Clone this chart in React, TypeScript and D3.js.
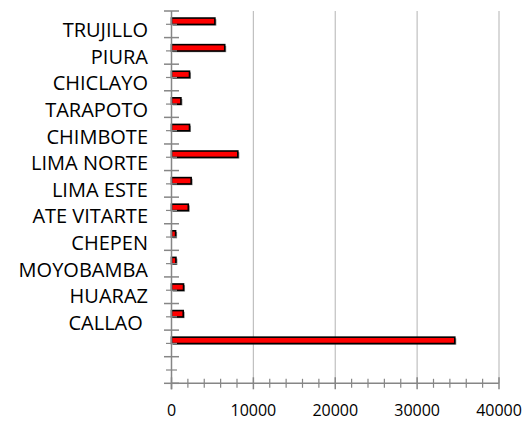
import React from 'react';
import * as d3 from 'd3';

// categories top to bottom (the 13th bar has no label in the source, last band is empty)
const categories = ['TRUJILLO', 'PIURA', 'CHICLAYO', 'TARAPOTO', 'CHIMBOTE', 'LIMA NORTE', 'LIMA ESTE', 'ATE VITARTE', 'CHEPEN', 'MOYOBAMBA', 'HUARAZ', 'CALLAO ', '', ' '];
const values: (number | null)[] = [5300, 6500, 2200, 1150, 2200, 8100, 2400, 2050, 500, 540, 1470, 1430, 34600, null];
const xTicks = [0, 10000, 20000, 30000, 40000];

const W = 526;
const H = 421;
const plot = { left: 171.5, right: 499, top: 11, bottom: 383.3 };

const App: React.FC = () => {
  const x = d3.scaleLinear().domain([0, 40000]).range([plot.left, plot.right]);
  const y = d3.scaleBand<string>().domain(categories).range([plot.top, plot.bottom]).paddingInner(0).paddingOuter(0);
  const bw = y.bandwidth();

  const minorX = d3.range(0, 40001, 2000).filter((v) => v % 10000 !== 0);
  const axisColor = '#868686';

  return (
    <div style={{ position: 'fixed', left: 0, top: 0, width: W, height: H, background: '#fff' }}>
      <svg width={W} height={H} style={{ display: 'block' }}>
        {/* vertical gridlines */}
        {xTicks.filter((t) => t > 0).map((t) => (
          <line key={'g' + t} x1={x(t)} x2={x(t)} y1={plot.top} y2={plot.bottom} stroke="#c0c0c0" strokeWidth={1.2} />
        ))}

        {/* bars */}
        {categories.map((c, i) => {
          const v = values[i];
          if (v == null) return null;
          const y0 = (y(c) as number) + bw * 0.265;
          return (
            <g key={'b' + i}>
              <rect x={x(0) + 1.5} y={y0 + 1.2} width={x(v) - x(0)} height={bw * 0.24} fill="#404040" opacity={0.6} />
              <rect x={x(0)} y={y0} width={x(v) - x(0)} height={bw * 0.24} fill="#ff0000" stroke="#000" strokeWidth={1.6} />
            </g>
          );
        })}

        {/* y axis */}
        <line x1={x(0)} x2={x(0)} y1={plot.top} y2={plot.bottom + 6} stroke={axisColor} strokeWidth={1.5} />
        {d3.range(categories.length + 1).map((i) => {
          const yy = plot.top + i * bw;
          return <line key={'ym' + i} x1={x(0) - 7.5} x2={x(0) + 7.5} y1={yy} y2={yy} stroke={axisColor} strokeWidth={1.5} />;
        })}
        {categories.map((c, i) => {
          const yy = (y(c) as number) + bw / 2;
          return <line key={'yn' + i} x1={x(0) - 5.5} x2={x(0) + 5.5} y1={yy} y2={yy} stroke={axisColor} strokeWidth={1.2} />;
        })}

        {/* x axis */}
        <line x1={x(0)} x2={x(40000)} y1={plot.bottom} y2={plot.bottom} stroke={axisColor} strokeWidth={1.5} />
        {xTicks.map((t) => (
          <line key={'xm' + t} x1={x(t)} x2={x(t)} y1={plot.bottom - 6} y2={plot.bottom + 6} stroke={axisColor} strokeWidth={1.5} />
        ))}
        {minorX.map((t) => (
          <line key={'xn' + t} x1={x(t)} x2={x(t)} y1={plot.bottom - 4.5} y2={plot.bottom + 4.5} stroke={axisColor} strokeWidth={1.2} />
        ))}

        {/* tick labels */}
        {xTicks.map((t) => (
          <text key={'xl' + t} x={x(t)} y={416} textAnchor="middle" fontFamily="'Open Sans', sans-serif" fontSize={16} fill="#000">
            {t}
          </text>
        ))}
        {categories.map((c, i) => (
          <text
            key={'yl' + i}
            x={148}
            y={(y(c) as number) + bw / 2 + 6}
            dy="0.35em"
            textAnchor="end"
            fontFamily="'Open Sans', sans-serif"
            fontSize={20}
            fill="#000"
            style={{ whiteSpace: 'pre' }}
          >
            {c}
          </text>
        ))}
      </svg>
    </div>
  );
};

export default App;
